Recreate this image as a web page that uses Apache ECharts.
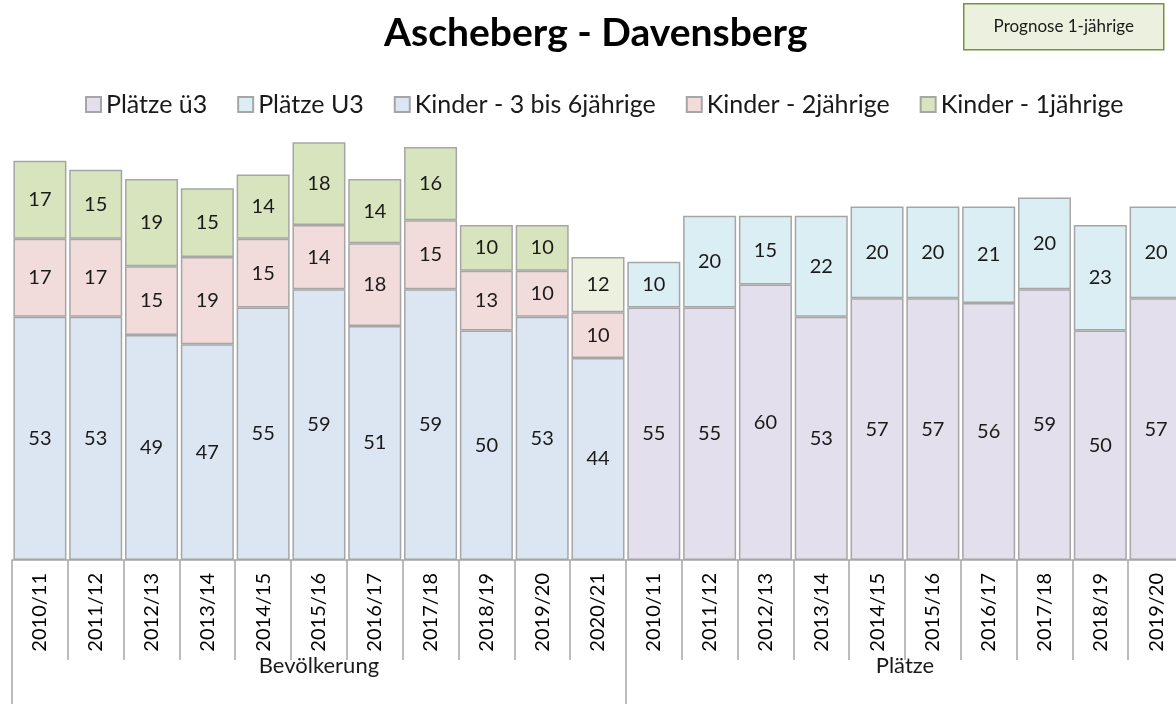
<!DOCTYPE html>
<html><head><meta charset="utf-8">
<script src="https://cdn.jsdelivr.net/npm/echarts@6/dist/echarts.min.js"></script>
<style>html,body{margin:0;padding:0;background:#fff}#c{width:1176px;height:704px}</style>
</head><body><div id="c"></div>
<script>
// ---- data ----
const bevYears = ['2010/11','2011/12','2012/13','2013/14','2014/15','2015/16','2016/17','2017/18','2018/19','2019/20','2020/21'];
const plaetzeYears = ['2010/11','2011/12','2012/13','2013/14','2014/15','2015/16','2016/17','2017/18','2018/19','2019/20'];
const groupLabels = ['Bevölkerung','Plätze'];
const kinder36 = [53,53,49,47,55,59,51,59,50,53,44];
const kinder2  = [17,17,15,19,15,14,18,15,13,10,10];
const kinder1  = [17,15,19,15,14,18,14,16,10,10,12];
const prognoseIdx = [10];
const plaetzeUe3 = [55,55,60,53,57,57,56,59,50,57];
const plaetzeU3  = [10,20,15,22,20,20,21,20,23,20];
const seriesNames = ['Plätze ü3','Plätze U3','Kinder - 3 bis 6jährige','Kinder - 2jährige','Kinder - 1jährige'];

// ---- build ----
const nB = bevYears.length, nP = plaetzeYears.length, nAll = nB + nP;
const categories = bevYears.concat(plaetzeYears);
const padB = a => a.concat(new Array(nP).fill('-'));
const padP = a => new Array(nB).fill('-').concat(a);
const FONT = 'Lato';
const border = '#a6a6a6';
const colors = ['#e4dfec','#dbeef4','#dce6f2','#f2dcdb','#d7e4bd'];
const progColor = '#ebf1de';

const k1data = padB(kinder1).map((v,i) => prognoseIdx.includes(i) ? {value:v, itemStyle:{color:progColor}} : v);
const dataSets = [padP(plaetzeUe3), padP(plaetzeU3), padB(kinder36), padB(kinder2), k1data];

const series = seriesNames.map((name, i) => ({
  name, type:'bar', stack:'total', xAxisIndex:0, data: dataSets[i],
  barCategoryGap:'5%',
  itemStyle:{color:colors[i], borderColor:border, borderWidth:1.5},
  label:{show:true, position:'inside', fontFamily:FONT, fontSize:20, color:'#1a1a1a'}
}));

const chart = echarts.init(document.getElementById('c'));
chart.setOption({
  animation:false,
  textStyle:{fontFamily:FONT},
  title:{text:'Ascheberg - Davensberg', left:379, top:9,
    textStyle:{fontFamily:FONT, fontSize:39, fontWeight:'bold', color:'#000'}},
  legend:{data:seriesNames, top:87, left:80, itemWidth:15, itemHeight:15, itemGap:30,
    icon:'rect', textStyle:{fontFamily:FONT, fontSize:25, color:'#1a1a1a'}},
  grid:{left:12, right:-8, top:101, bottom:144, outerBoundsMode:'none', containLabel:false},
  xAxis:[{
    type:'category', data:categories, position:'bottom',
    axisLine:{show:true, lineStyle:{color:border, width:1.5}},
    axisTick:{show:true, interval:0, length:100, lineStyle:{color:border, width:1.5}},
    axisLabel:{interval:0, rotate:90, margin:13, fontFamily:FONT, fontSize:20, color:'#000'}
  },{
    type:'value', min:0, max:nAll, position:'bottom',
    axisLine:{show:false}, splitLine:{show:false},
    axisTick:{show:true, customValues:[0, nB], length:144, lineStyle:{color:border, width:1.5}},
    axisLabel:{show:true, customValues:[nB/2, nB + nP/2], margin:95,
      formatter: v => v < nB ? groupLabels[0] : groupLabels[1],
      fontFamily:FONT, fontSize:22, color:'#1a1a1a'}
  }],
  yAxis:{type:'value', min:0, max:100, show:false},
  series,
  graphic:[{
    type:'group', left:963, top:3,
    children:[
      {type:'rect', shape:{x:0,y:0,width:200,height:46}, style:{fill:'#ebf1de', stroke:'#77933c', lineWidth:1.5}},
      {type:'text', x:100, y:23, style:{text:'Prognose 1-jährige', fontFamily:FONT, fontSize:17, fill:'#1a1a1a', align:'center', verticalAlign:'middle'}}
    ]
  }]
});
</script>
</body></html>
